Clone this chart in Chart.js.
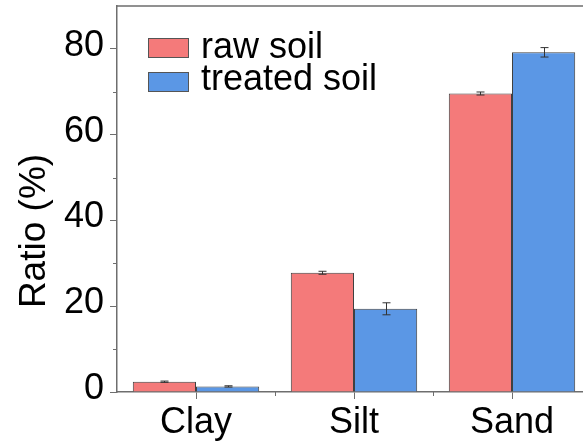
<!DOCTYPE html>
<html>
<head>
<meta charset="utf-8">
<script src="https://cdn.jsdelivr.net/npm/chart.js@4.4.1/dist/chart.umd.min.js"></script>
<style>
  html, body { margin: 0; padding: 0; background: #fff; overflow: hidden; width: 583px; height: 445px; }
  canvas { display: block; }
</style>
</head>
<body>
<canvas id="c" width="600" height="445"></canvas>
<script>
// Particle-size fractions of the soil before and after treatment
const categories = ['Clay', 'Silt', 'Sand'];
const seriesNames = ['raw soil', 'treated soil'];
const rawSoil = [2.4, 27.8, 69.6];
const rawSoilErr = [0.15, 0.35, 0.35];
const treatedSoil = [1.3, 19.4, 79.2];
const treatedSoilErr = [0.15, 1.4, 1.1];
const yMajorTicks = [0, 20, 40, 60, 80];
const yMinorTicks = [10, 30, 50, 70];
const yTitle = 'Ratio (%)';

const FONT = "'Liberation Sans', Arial, sans-serif";
const AXIS_COLOR = '#6e6e6e';
const RED = '#f47a7a';
const BLUE = '#5b97e5';

// Frame, minor ticks, error bars, legend and rotated axis title
const decorations = {
  id: 'decorations',
  afterDatasetsDraw(chart) {
    const ctx = chart.ctx;
    const y = chart.scales.y;
    ctx.save();
    ctx.strokeStyle = '#333';
    ctx.lineWidth = 1;
    chart.data.datasets.forEach((ds, di) => {
      const meta = chart.getDatasetMeta(di);
      meta.data.forEach((bar, i) => {
        const v = ds.data[i], e = ds.errors[i];
        const x = Math.round(bar.x) + 0.5;
        const yTop = y.getPixelForValue(v + e);
        const yBot = y.getPixelForValue(v - e);
        ctx.beginPath();
        ctx.moveTo(x, yTop); ctx.lineTo(x, yBot);
        ctx.moveTo(x - 4, yTop); ctx.lineTo(x + 4, yTop);
        ctx.moveTo(x - 4, yBot); ctx.lineTo(x + 4, yBot);
        ctx.stroke();
      });
    });
    ctx.restore();
  },
  afterDraw(chart) {
    const ctx = chart.ctx;
    const area = chart.chartArea;
    const x = chart.scales.x;
    const y = chart.scales.y;
    ctx.save();
    // top and right frame lines
    ctx.strokeStyle = AXIS_COLOR;
    ctx.lineWidth = 1.5;
    ctx.beginPath();
    ctx.moveTo(area.left, area.top);
    ctx.lineTo(area.right, area.top);
    ctx.lineTo(area.right, area.bottom);
    ctx.stroke();
    // minor ticks
    ctx.lineWidth = 1;
    ctx.beginPath();
    yMinorTicks.forEach(v => {
      const py = Math.round(y.getPixelForValue(v)) + 0.5;
      ctx.moveTo(area.left - 4, py); ctx.lineTo(area.left, py);
    });
    for (let i = 0; i < categories.length - 1; i++) {
      const px = Math.round((x.getPixelForValue(i) + x.getPixelForValue(i + 1)) / 2) + 0.5;
      ctx.moveTo(px, area.bottom); ctx.lineTo(px, area.bottom + 4);
    }
    ctx.stroke();

    // legend
    ctx.font = '36px ' + FONT;
    ctx.textBaseline = 'alphabetic';
    ctx.textAlign = 'left';
    const rows = [{ top: 38, base: 58 }, { top: 72, base: 90 }];
    chart.data.datasets.forEach((ds, i) => {
      const r = rows[i];
      ctx.fillStyle = ds.backgroundColor;
      ctx.fillRect(148, r.top, 41, 20);
      ctx.strokeStyle = '#555';
      ctx.lineWidth = 1;
      ctx.strokeRect(148.5, r.top + 0.5, 40, 19);
      ctx.fillStyle = '#000';
      ctx.fillText(ds.label, 201, r.base);
    });

    // y axis title
    ctx.font = '37px ' + FONT;
    ctx.textAlign = 'center';
    ctx.translate(45, 231);
    ctx.rotate(-Math.PI / 2);
    ctx.fillStyle = '#000';
    ctx.fillText(yTitle, 0, 0);
    ctx.restore();
  }
};

new Chart(document.getElementById('c'), {
  type: 'bar',
  data: {
    labels: categories,
    datasets: [
      { label: seriesNames[0], data: rawSoil, errors: rawSoilErr,
        backgroundColor: RED, borderColor: '#404040', borderWidth: 1 },
      { label: seriesNames[1], data: treatedSoil, errors: treatedSoilErr,
        backgroundColor: BLUE, borderColor: '#404040', borderWidth: 1 }
    ]
  },
  options: {
    responsive: false,
    animation: false,
    devicePixelRatio: 1,
    layout: { padding: { top: 6, right: 9, left: 0, bottom: 0 } },
    plugins: { legend: { display: false }, tooltip: { enabled: false } },
    datasets: { bar: { categoryPercentage: 0.8, barPercentage: 1.0 } },
    scales: {
      x: {
        grid: { offset: false, drawOnChartArea: false, tickLength: 7, color: AXIS_COLOR, lineWidth: 1 },
        border: { display: true, color: AXIS_COLOR, width: 1.5 },
        ticks: { font: { family: FONT, size: 36 }, color: '#000', padding: 2, maxRotation: 0 },
        afterFit(scale) {
          scale.height = 53;
          scale.paddingLeft = 0; scale.paddingRight = 0;
        }
      },
      y: {
        min: 0, max: 90,
        afterBuildTicks(scale) { scale.ticks = yMajorTicks.map(v => ({ value: v })); },
        grid: { drawOnChartArea: false, tickLength: 7, color: AXIS_COLOR, lineWidth: 1 },
        border: { display: true, color: AXIS_COLOR, width: 1.5 },
        ticks: { font: { family: FONT, size: 36 }, color: '#000', padding: 6, labelOffset: -3 },
        afterFit(scale) {
          scale.width = 117;
          scale.paddingTop = 0; scale.paddingBottom = 0;
        }
      }
    }
  },
  plugins: [decorations]
});
</script>
</body>
</html>
